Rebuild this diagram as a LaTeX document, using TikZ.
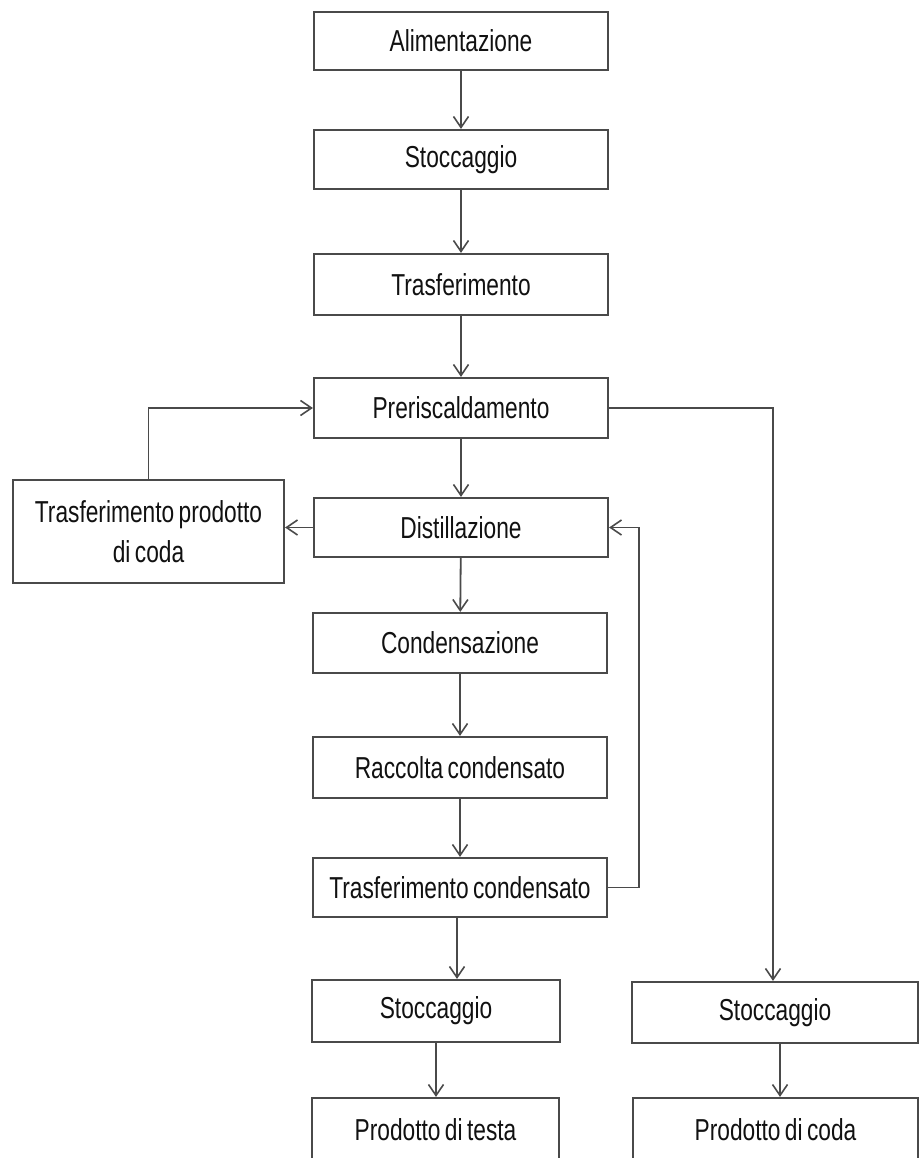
\documentclass[tikz,border=0pt]{standalone}
\usepackage{fontspec}
\setmainfont{Liberation Sans}[FakeStretch=0.75, WordSpace=0.7]
\usetikzlibrary{arrows.meta}
\definecolor{linegray}{HTML}{4A4A4A}
\definecolor{textdark}{HTML}{111111}
\tikzset{
  box/.style={draw=linegray, line width=2.2pt, fill=white, inner sep=0pt, align=center,
              text=textdark, font=\fontsize{30.3}{40}\selectfont},
  flow/.style={draw=linegray, line width=1.8pt,
               -{Straight Barb[length=11pt,width=15pt,line width=1.6pt]}}
}
\newcommand{\mybox}[6]{% name, x1, y1, x2, y2, text
  \node[box, minimum width={(#4-#2)*1pt}, minimum height={(#5-#3)*1pt}]
    (#1) at ({(#2+#4)/2}, {(#3+#5)/2}) {#6};}
\begin{document}
\begin{tikzpicture}[x=1pt, y=-1pt]
\useasboundingbox (0,0) rectangle (921,1158);
\mybox{a}{314}{12}{608}{70}{Alimentazione}
\mybox{b}{314}{130}{608}{189}{Stoccaggio}
\mybox{c}{314}{254}{608}{315}{Trasferimento}
\mybox{d}{314}{378}{608}{438}{Preriscaldamento}
\mybox{e}{314}{498}{608}{557}{Distillazione}
\mybox{f}{313}{613}{607}{673}{Condensazione}
\mybox{g}{313}{737}{607}{798}{Raccolta condensato}
\mybox{h}{313}{858}{607}{917}{Trasferimento condensato}
\mybox{i}{312}{980}{560}{1042}{Stoccaggio}
\mybox{j}{312}{1098}{559}{1162}{Prodotto di testa}
\mybox{k}{632}{982}{918}{1043}{Stoccaggio}
\mybox{l}{633}{1098}{918}{1162}{Prodotto di coda}
\mybox{m}{13}{480}{284}{583}{Trasferimento prodotto\\di coda}

\draw[flow] (a) -- (b);
\draw[flow] (b) -- (c);
\draw[flow] (c) -- (d);
\draw[flow] (d) -- (e);
\draw[flow] (e) -- (f);
\draw[flow] (f) -- (g);
\draw[flow] (g) -- (h);
\draw[flow] ([xshift=-3pt]h.south) -- ([xshift=-3pt]h.south |- i.north);
\draw[flow] (i) -- (i |- j.north);
\draw[flow] ([xshift=5pt]k.south) -- ([xshift=5pt]k.south |- l.north);
\draw[flow] (d.east) -| ([xshift=-2pt]k.north);
\draw[flow] (m.north) |- (d.west);
\draw[flow] (e.west) -- (e.west -| m.east);
\coordinate (hr) at ([xshift=31pt]h.east);
\draw[flow] (h.east) -- (hr) |- (e.east);
\end{tikzpicture}
\end{document}
